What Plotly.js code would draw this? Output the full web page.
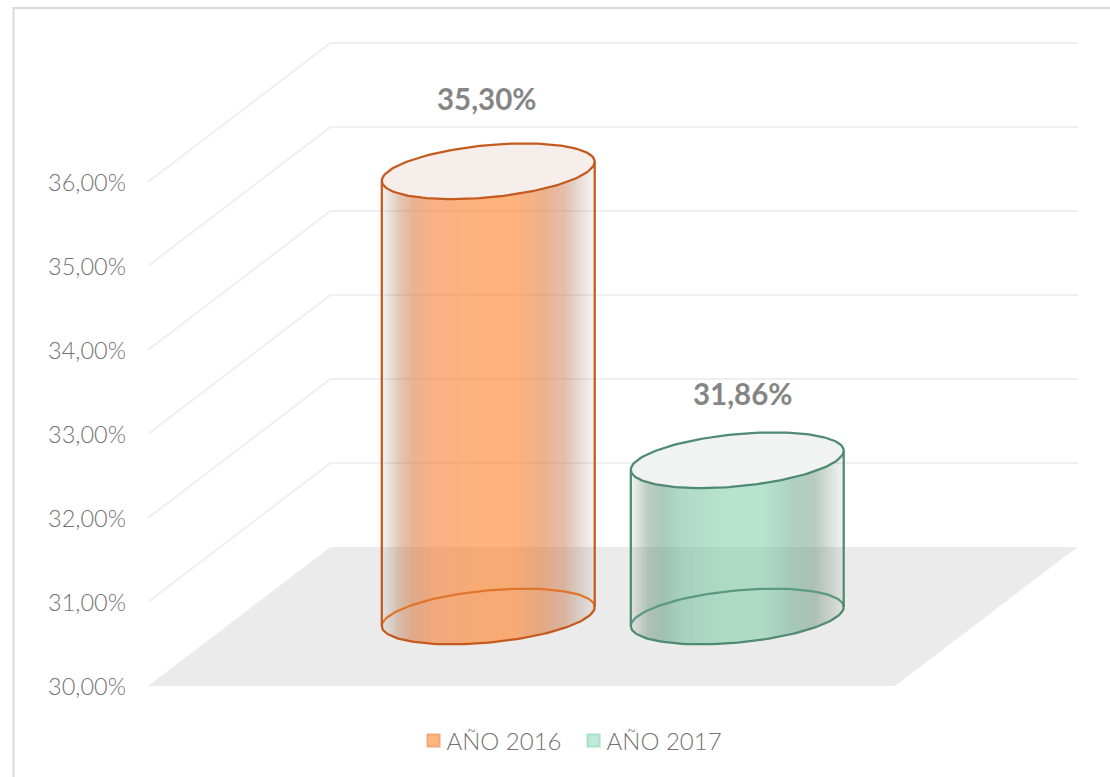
<!DOCTYPE html>
<html><head><meta charset="utf-8">
<script src="https://cdn.plot.ly/plotly-3.0.1.min.js"></script>
<style>html,body{margin:0;padding:0;background:#fff}#c{width:1110px;height:777px}</style>
</head><body><div id="c"></div>
<script>
const seriesNames = ["AÑO 2016", "AÑO 2017"];
const seriesValues = [35.30, 31.86];
const valueLabels = ["35,30%", "31,86%"];
const tickValues = [30, 31, 32, 33, 34, 35, 36];
const tickLabels = ["30,00%", "31,00%", "32,00%", "33,00%", "34,00%", "35,00%", "36,00%"];
const categoryPositions = [1, 2];
const floorWidth = 3;

const lineColors = ["#c55a1e", "#4f8a72"];
const backLineColors = ["#e0762e", "#5a9a80"];
const capColors = ["#f6eeeb", "#f0f3f2"];
const legendFill = ["#ffb780", "#bfeada"];
const legendEdge = ["#f4a878", "#aadfc8"];
const bodyScales = [
  [[0,"rgba(150,130,115,0.10)"],[0.03,"rgba(160,125,100,0.20)"],[0.08,"rgba(185,115,70,0.40)"],[0.15,"rgba(215,115,55,0.55)"],[0.24,"rgba(245,120,45,0.58)"],[0.45,"rgba(255,127,37,0.60)"],[0.62,"rgba(255,127,37,0.60)"],[0.75,"rgba(225,115,45,0.56)"],[0.86,"rgba(195,115,75,0.46)"],[0.95,"rgba(160,125,105,0.20)"],[1,"rgba(150,130,115,0.08)"]],
  [[0,"rgba(110,130,120,0.10)"],[0.03,"rgba(95,125,110,0.20)"],[0.08,"rgba(85,130,105,0.40)"],[0.15,"rgba(85,150,120,0.50)"],[0.24,"rgba(105,185,150,0.52)"],[0.45,"rgba(124,204,167,0.55)"],[0.62,"rgba(124,204,167,0.55)"],[0.75,"rgba(100,170,140,0.52)"],[0.86,"rgba(85,130,110,0.42)"],[0.95,"rgba(95,125,110,0.20)"],[1,"rgba(110,130,120,0.08)"]]
];

// oblique projection of the floor depth onto the page
const depthX = 0.733, depthY = 1.655, radiusU = 0.4016, radiusD = 0.2;
const base = tickValues[0];
const project = (u, d, v) => [u + depthX * d, v + depthY * d];
const ellipse = (u, v, a, b, n) => {
  const xs = [], ys = [];
  for (let i = 0; i <= n; i++) {
    const t = a + (b - a) * i / n;
    const p = project(u + radiusU * Math.cos(t), 0.5 + radiusD * Math.sin(t), v);
    xs.push(p[0]); ys.push(p[1]);
  }
  return [xs, ys];
};

const traces = [];
// floor
{
  const c = [[0,0],[floorWidth,0],[floorWidth,1],[0,1],[0,0]].map(q => project(q[0], q[1], base));
  traces.push({x:c.map(p=>p[0]), y:c.map(p=>p[1]), mode:"lines", fill:"toself", fillcolor:"#ebebeb", line:{width:0}, hoverinfo:"skip", showlegend:false});
}
// folded gridlines
tickValues.slice(1).forEach(v => {
  const c = [project(0,0,v), project(0,1,v), project(floorWidth,1,v)];
  traces.push({x:c.map(p=>p[0]), y:c.map(p=>p[1]), mode:"lines", line:{color:"#efefef", width:2}, hoverinfo:"skip", showlegend:false});
});

const ovl = {xaxis:"x2", yaxis:"y2"};
const pxU = 1 / 249, pxV = 1 / 84;
const Dx = depthX * radiusD, Dy = depthY * radiusD;
const R = Math.sqrt(radiusU * radiusU + Dx * Dx);
const lineW = 2.25;
seriesValues.forEach((val, k) => {
  const u = categoryPositions[k];
  const c = project(u, 0.5, base), top = project(u, 0.5, val);
  const t0 = Math.atan2(Dx, radiusU);
  // back of the foot, seen through the body
  const back = ellipse(u, base, t0, t0 + Math.PI, 70);
  // glass body as an image of the horizontal shading
  const xs = [], ys = [], z = [];
  const nx = Math.round(2 * R / pxU);
  for (let i = 0; i < nx; i++) xs.push(c[0] - R + (i + 0.5) * pxU);
  const ny = Math.round((top[1] - c[1] + 2 * Dy) / pxV);
  for (let j = 0; j < ny; j++) ys.push(c[1] - Dy + (j + 0.5) * pxV);
  const aQ = Dx * Dx / (radiusU * radiusU) + 1;
  const lower = xs.map(x => {
    const X = x - c[0];
    const bQ = -2 * X * Dx / (radiusU * radiusU), cQ = X * X / (radiusU * radiusU) - 1;
    const disc = Math.max(0, bQ * bQ - 4 * aQ * cQ);
    return (-bQ - Math.sqrt(disc)) / (2 * aQ);
  });
  ys.forEach(y => {
    z.push(xs.map((x, i) => {
      const yl = c[1] + Dy * lower[i];
      const yu = top[1] + Dy * lower[i] + 0.1;
      return (y >= yl && y <= yu) ? (i + 0.5) / nx : null;
    }));
  });
  traces.push(Object.assign({type:"heatmap", x:xs, y:ys, z:z, zmin:0, zmax:1, colorscale:bodyScales[k], showscale:false, hoverinfo:"skip", zsmooth:false}, ovl));
  traces.push(Object.assign({x:back[0], y:back[1], mode:"lines", line:{color:backLineColors[k], width:lineW}, hoverinfo:"skip", showlegend:false}, ovl));
  // front of the foot
  const front = ellipse(u, base, t0 + Math.PI, t0 + 2 * Math.PI, 70);
  traces.push(Object.assign({x:front[0], y:front[1], mode:"lines", line:{color:lineColors[k], width:lineW}, hoverinfo:"skip", showlegend:false}, ovl));
  // sides
  [t0, t0 + Math.PI].forEach(t => {
    const s = Math.sin(t);
    const a = project(u + radiusU * Math.cos(t), 0.5 + radiusD * s, base);
    const b = project(u + radiusU * Math.cos(t), 0.5 + radiusD * s, val);
    traces.push(Object.assign({x:[a[0], b[0]], y:[a[1], b[1]], mode:"lines", line:{color:lineColors[k], width:lineW}, hoverinfo:"skip", showlegend:false}, ovl));
  });
  // top cap
  const cap = ellipse(u, val, 0, 2 * Math.PI, 140);
  traces.push(Object.assign({x:cap[0], y:cap[1], mode:"lines", fill:"toself", fillcolor:capColors[k], line:{color:lineColors[k], width:lineW}, hoverinfo:"skip", showlegend:false}, ovl));
  // legend entry
  traces.push({x:[null], y:[null], mode:"markers", name:seriesNames[k], marker:{symbol:"square", size:14, color:legendFill[k], line:{color:legendEdge[k], width:1.5}}, hoverinfo:"skip"});
});

const font = "Lato, 'Open Sans', sans-serif";
const L = 130, T = 20, W = 960, H = 680;
const xRange = [(L - 148) / 249, (L + W - 148) / 249];
const yRange = [base - (700 - 686) / 84, base + (686 - T) / 84];
const labelShift = [[-1, 73], [6, 67]];
const layout = {
  width: 1110, height: 777,
  margin: {l: L, r: 1110 - L - W, t: T, b: 777 - T - H, pad: 0},
  paper_bgcolor: "#fff", plot_bgcolor: "rgba(0,0,0,0)",
  xaxis: {range: xRange, visible: false, fixedrange: true},
  yaxis: {range: yRange, tickmode: "array", tickvals: tickValues, ticktext: tickLabels, showgrid: false, zeroline: false, showline: false, ticks: "", fixedrange: true, tickfont: {family: font, size: 23.5, color: "#737373", weight: 300}, ticklabelstandoff: 3, ticklabelshift: 1},
  xaxis2: {range: xRange, visible: false, overlaying: "x", fixedrange: true},
  yaxis2: {range: yRange, visible: false, overlaying: "y", fixedrange: true},
  showlegend: true,
  legend: {orientation: "h", x: 0.5 - 43 / W, xanchor: "center", y: (700 - 741) / H, yanchor: "middle", font: {family: font, size: 24, color: "#737373", weight: 300}, itemsizing: "constant", itemwidth: 30, bgcolor: "rgba(0,0,0,0)"},
  annotations: seriesValues.map((val, k) => {
    const p = project(categoryPositions[k], 0.5, val);
    return {x: p[0], y: p[1], xref: "x", yref: "y", text: valueLabels[k], showarrow: false, xshift: labelShift[k][0], yshift: labelShift[k][1], font: {family: font, size: 29.5, color: "#858585", weight: 700}};
  }),
  shapes: [{type: "path", xref: "paper", yref: "paper", layer: "below",
    path: `M ${(1110 - L) / W} ${(T + H - 8) / H} L ${(13.5 - L) / W} ${(T + H - 8) / H} L ${(13.5 - L) / W} ${(T + H - 777) / H}`,
    line: {color: "#d9d9d9", width: 2}}]
};
Plotly.newPlot("c", traces, layout, {displayModeBar: false, responsive: false}).then(gd => {
  // the key sits closer to its text than the library's default spacing
  gd.querySelectorAll(".legend .legendpoints").forEach(n => n.setAttribute("transform", "translate(7,0)"));
});
</script></body></html>
